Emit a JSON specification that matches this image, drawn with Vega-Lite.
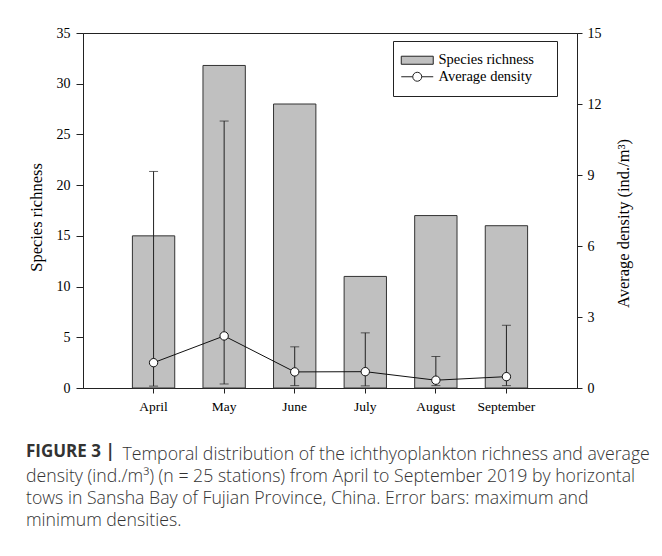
{
  "$schema": "https://vega.github.io/schema/vega-lite/v6.json",
  "width": 494,
  "height": 355,
  "autosize": {"type": "none"},
  "padding": {"left": 83, "top": 33, "right": 85, "bottom": 168},
  "background": "white",
  "data": {
    "values": [
      {"month": "April", "richness": 15, "density": 1.07, "dmax": 9.15, "dmin": 0.08},
      {"month": "May", "richness": 31.8, "density": 2.2, "dmax": 11.28, "dmin": 0.17},
      {"month": "June", "richness": 28, "density": 0.68, "dmax": 1.74, "dmin": 0.1},
      {"month": "July", "richness": 11, "density": 0.69, "dmax": 2.33, "dmin": 0.09},
      {"month": "August", "richness": 17, "density": 0.33, "dmax": 1.33, "dmin": 0.1},
      {"month": "September", "richness": 16, "density": 0.48, "dmax": 2.65, "dmin": 0.1}
    ]
  },
  "encoding": {
    "x": {
      "field": "month", "type": "nominal",
      "sort": ["April", "May", "June", "July", "August", "September"],
      "scale": {"paddingInner": 0.4, "paddingOuter": 0.7},
      "axis": {"title": null, "labelAngle": 0, "labelPadding": 6, "tickSize": 5, "labelFontSize": 13.5}
    }
  },
  "layer": [
    {
      "mark": {"type": "bar", "stroke": "#333", "strokeWidth": 1},
      "encoding": {
        "y": {
          "field": "richness", "type": "quantitative",
          "scale": {"domain": [0, 35]},
          "title": "Species richness",
          "axis": {"orient": "left", "values": [0, 5, 10, 15, 20, 25, 30, 35], "labelPadding": 6, "tickSize": 7, "titlePadding": 12, "titleY": 184}
        },
        "fill": {
          "datum": "Species richness", "type": "nominal",
          "scale": {"domain": ["Species richness", "Average density"], "range": ["#c0c0c0", "#ffffff"]},
          "legend": {
            "title": "·",
            "titleOrient": "right",
            "titleOpacity": 0,
            "titleFontSize": 10,
            "titlePadding": 7,
            "orient": "none",
            "legendX": 310,
            "legendY": 8,
            "padding": 12,
            "strokeColor": "#222",
            "fillColor": "white",
            "symbolSize": 169,
            "symbolStrokeColor": "#222",
            "symbolStrokeWidth": 1,
            "symbolOffset": 5,
            "labelOffset": 14,
            "labelFont": "Liberation Serif",
            "labelFontSize": 14.5,
            "labelColor": "black",
            "rowPadding": 1.5,
            "encode": {
              "symbols": {
                "update": {
                  "shape": {"signal": "datum.value === 'Species richness' ? 'M-2.46,-0.62H2.46V0.62H-2.46Z' : 'M-2.46,0H-0.69M0.69,0H2.46M0.69,0A0.69,0.69 0 1,1 -0.69,0A0.69,0.69 0 1,1 0.69,0'"}
                }
              }
            }
          }
        }
      }
    },
    {
      "layer": [
        {
          "mark": {"type": "rule", "color": "#222", "strokeWidth": 1},
          "encoding": {
            "y": {"field": "dmax", "type": "quantitative", "scale": {"domain": [0, 15]}, "title": "Average density (ind./m³)", "axis": {"orient": "right", "values": [0, 3, 6, 9, 12, 15]}},
            "y2": {"field": "dmin"}
          }
        },
        {
          "mark": {"type": "tick", "color": "#222", "size": 9, "thickness": 1},
          "encoding": {
            "y": {"field": "dmax", "type": "quantitative", "scale": {"domain": [0, 15]}, "title": "Average density (ind./m³)", "axis": {"orient": "right", "values": [0, 3, 6, 9, 12, 15]}}
          }
        },
        {
          "mark": {"type": "tick", "color": "#222", "size": 9, "thickness": 1},
          "encoding": {
            "y": {"field": "dmin", "type": "quantitative", "scale": {"domain": [0, 15]}, "title": "Average density (ind./m³)", "axis": {"orient": "right", "values": [0, 3, 6, 9, 12, 15]}}
          }
        },
        {
          "mark": {"type": "line", "color": "#111", "strokeWidth": 1},
          "encoding": {
            "y": {"field": "density", "type": "quantitative", "scale": {"domain": [0, 15]}, "title": "Average density (ind./m³)", "axis": {"orient": "right", "values": [0, 3, 6, 9, 12, 15]}}
          }
        },
        {
          "mark": {"type": "point", "shape": "circle", "filled": true, "fill": "white", "stroke": "#111", "strokeWidth": 1, "size": 70, "opacity": 1},
          "encoding": {
            "y": {"field": "density", "type": "quantitative", "scale": {"domain": [0, 15]}, "title": "Average density (ind./m³)", "axis": {"orient": "right", "values": [0, 3, 6, 9, 12, 15]}}
          }
        }
      ]
    }
  ],
  "resolve": {"scale": {"y": "independent"}},
  "title": {
    "text": "FIGURE 3 |",
    "subtitle": [
      "\u200b\u00a0\u00a0\u00a0\u00a0\u00a0\u00a0\u00a0\u00a0\u00a0\u00a0\u00a0\u00a0\u00a0\u00a0\u00a0\u00a0\u00a0\u00a0\u00a0\u00a0\u00a0Temporal distribution of the ichthyoplankton richness and average",
      "density (ind./m³) (n = 25 stations) from April to September 2019 by horizontal",
      "tows in Sansha Bay of Fujian Province, China. Error bars: maximum and",
      "minimum densities."
    ],
    "orient": "bottom",
    "anchor": "start",
    "frame": "group",
    "dx": -57,
    "offset": 31,
    "font": "Open Sans",
    "fontSize": 17,
    "fontWeight": "bold",
    "color": "#333",
    "subtitleFont": "Open Sans",
    "subtitleFontSize": 17.7,
    "subtitleFontWeight": 300,
    "subtitleColor": "#333",
    "subtitleLineHeight": 22,
    "subtitlePadding": -15
  },
  "config": {
    "view": {"stroke": "#222", "strokeWidth": 1},
    "axis": {
      "labelFont": "Liberation Serif",
      "titleFont": "Liberation Serif",
      "labelFontSize": 14,
      "titleFontSize": 16.5,
      "titleFontWeight": "normal",
      "labelColor": "black",
      "titleColor": "black",
      "domainColor": "#222",
      "tickColor": "#222",
      "grid": false
    },
    "axisRight": {"titleAngle": 270, "titleBaseline": "top", "labelPadding": 5, "tickSize": 5, "titlePadding": 14, "titleY": 190}
  }
}
